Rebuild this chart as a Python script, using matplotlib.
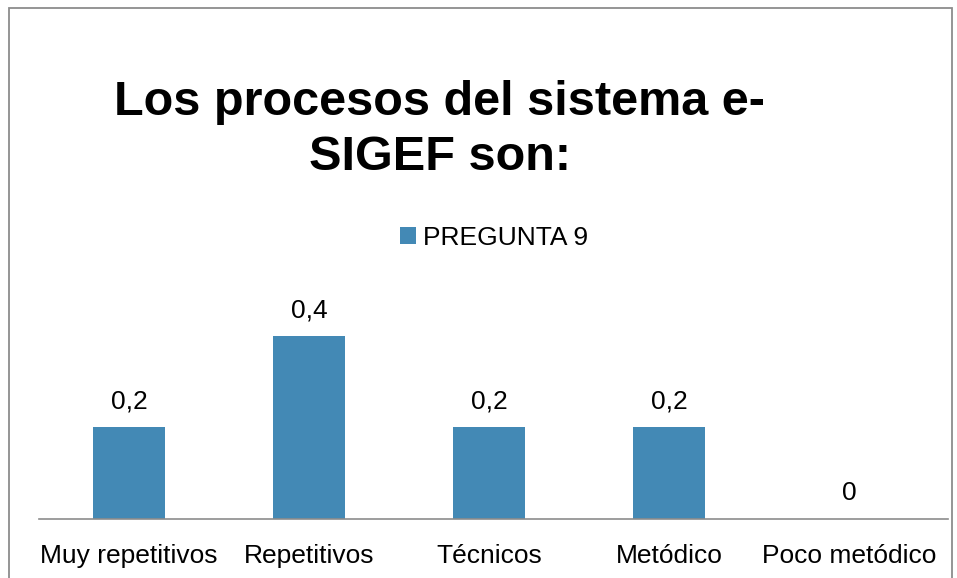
import matplotlib
matplotlib.use("Agg")
from matplotlib import pyplot as plt
from matplotlib.patches import Rectangle

categories = ["Muy repetitivos", "Repetitivos", "Técnicos", "Metódico", "Poco metódico"]
values = [0.2, 0.4, 0.2, 0.2, 0]
labels = ["0,2", "0,4", "0,2", "0,2", "0"]

plt.rcParams['font.family'] = ['Liberation Sans', 'DejaVu Sans']
W, H = 957, 578
fig = plt.figure(figsize=(W / 100, H / 100), dpi=100)

# outer chart border
fig.patches.append(Rectangle((9 / W, -0.05), (952 - 9) / W, 1 - 8 / H + 0.05,
                             transform=fig.transFigure, fill=False,
                             edgecolor="#8c8c8c", linewidth=1.3))

ax = fig.add_axes([39 / W, 1 - 519 / H, (948 - 39) / W, (519 - 290) / H])
x = range(len(categories))
bars = ax.bar(x, values, width=0.4, color="#4389b5", label="PREGUNTA 9")
ax.set_xlim(-0.5, 4.55)
ax.set_ylim(0, 0.5)
for i, v in enumerate(values):
    ax.text(i, v + 0.03, labels[i], ha="center", va="bottom", fontsize=19)

ax.set_xticks(list(x))
ax.set_xticklabels(categories, fontsize=19)
ax.tick_params(axis="x", length=0, pad=18)
ax.set_yticks([])
for s in ["top", "right", "left"]:
    ax.spines[s].set_visible(False)
ax.spines["bottom"].set_color("#8c8c8c")
ax.spines["bottom"].set_linewidth(1.2)

fig.text(440 / W, 1 - 130 / H, "Los procesos del sistema e-\nSIGEF son:",
         ha="center", va="center", fontsize=35, fontweight="bold", linespacing=1.28)

fig.legend(handles=[bars], loc="center", bbox_to_anchor=(494 / W, 1 - 238 / H),
           frameon=False, fontsize=19, handlelength=0.6, handleheight=0.6,
           handletextpad=0.25)

fig.savefig("out.png", dpi=100)
